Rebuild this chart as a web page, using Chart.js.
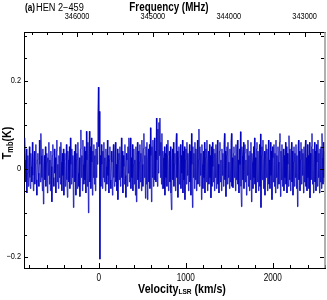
<!DOCTYPE html>
<html>
<head>
<meta charset="utf-8">
<script src="https://cdn.jsdelivr.net/npm/chart.js@4"></script>
<style>
  html, body { margin: 0; padding: 0; background: #fff; }
  #wrap { width: 327px; height: 300px; }
</style>
</head>
<body>
<div id="wrap"><canvas id="spec" width="327" height="300"></canvas></div>
<script>
// spectrum channels: first channel velocity and channel width (km/s)
const velStart = -850;
const velStep = 5.75;

// Tmb (K) per channel
const tmb = [
  0.07, 0.02, -0.03, 0.045, -0.055, -0.01, 0.03, -0.04, 0.015, 0.05,
  -0.02, -0.045, 0.035, 0.005, -0.03, 0.06, -0.015, -0.05, 0.025, 0.04,
  -0.035, 0.01, 0.055, -0.025, -0.06, 0.02, 0.035, -0.01, -0.04, 0.065,
  0.01, -0.03, 0.08, 0.03, -0.02, -0.05, 0.045, -0.08, 0.005, 0.03,
  -0.025, 0.05, -0.04, 0.015, 0.035, -0.055, 0.025, -0.015, 0.06, -0.035,
  0.02, -0.05, 0.04, 0.005, -0.075, 0.03, 0.055, -0.02, -0.04, 0.045,
  -0.01, 0.025, -0.055, 0.04, 0.065, -0.03, 0.01, -0.045, 0.03, -0.02,
  0.05, -0.035, 0.06, 0.015, -0.05, 0.035, -0.015, 0.045, -0.06, 0.02,
  0.035, -0.04, 0.005, 0.055, -0.025, -0.065, 0.04, 0.02, -0.03, 0.05,
  -0.045, 0.07, 0.01, -0.035, 0.045, -0.02, 0.03, -0.088, 0.015, 0.04,
  -0.03, 0.055, -0.06, 0.02, 0.035, -0.045, 0.06, -0.01, -0.04, 0.025,
  -0.063, 0.045, 0.088, -0.02, 0.03, -0.05, 0.065, 0.01, -0.035, 0.05,
  -0.025, 0.04, -0.055, 0.085, 0.02, -0.04, 0.06, -0.1, 0.035, 0.085,
  -0.03, 0.05, -0.045, 0.07, 0.015, -0.06, 0.04, -0.02, 0.055, -0.035,
  0.03, -0.05, 0.045, -0.02, 0.06, 0.01, 0.12, 0.185, 0.05, 0.13,
  -0.205, 0.03, -0.04, 0.055, 0.01, -0.045, 0.04, -0.02, 0.06, -0.03,
  0.025, -0.05, 0.045, 0.005, -0.035, 0.065, -0.015, 0.03, -0.055, 0.02,
  0.05, -0.025, -0.045, 0.04, 0.015, -0.06, 0.035, 0.055, -0.02, -0.04,
  0.03, 0.06, -0.03, 0.01, -0.05, 0.045, -0.07, 0.02, 0.035, -0.025,
  0.05, -0.04, 0.015, 0.07, -0.02, 0.04, -0.055, 0.03, 0.005, -0.035,
  0.055, -0.015, -0.065, 0.035, 0.02, -0.04, 0.05, -0.01, 0.07, -0.03,
  0.04, 0.07, -0.045, 0.025, -0.02, 0.055, -0.05, 0.01, 0.045, -0.035,
  0.02, -0.06, 0.05, -0.075, 0.03, 0.06, -0.025, 0.04, -0.045, 0.015,
  0.055, -0.03, 0.035, -0.05, 0.065, 0.01, -0.04, 0.045, 0.08, -0.02,
  0.03, -0.067, 0.05, -0.035, 0.06, -0.07, 0.02, 0.045, -0.03, 0.055,
  -0.045, 0.093, 0.03, -0.075, 0.05, -0.02, 0.065, -0.04, 0.035, 0.07,
  -0.025, 0.04, -0.03, 0.115, 0.02, -0.04, 0.09, -0.01, 0.105, 0.03,
  0.115, -0.02, 0.06, -0.035, 0.08, -0.045, 0.04, 0.025, -0.045, 0.05,
  -0.06, 0.035, -0.02, 0.055, -0.04, 0.03, 0.065, -0.05, 0.015, 0.04,
  -0.03, 0.05, -0.055, -0.093, 0.02, 0.045, -0.025, 0.06, -0.04, 0.01,
  0.035, -0.05, 0.06, 0.08, -0.02, 0.04, -0.065, 0.025, 0.05, -0.035,
  0.015, 0.055, -0.045, 0.03, -0.01, 0.065, -0.055, 0.04, -0.025, 0.05,
  -0.07, 0.02, 0.045, -0.035, 0.06, -0.015, 0.035, -0.05, 0.025, 0.055,
  -0.03, 0.04, -0.06, 0.08, 0.01, -0.088, 0.05, -0.02, 0.035, -0.045,
  0.06, -0.025, 0.045, -0.05, 0.03, 0.065, -0.035, 0.02, 0.09, -0.04,
  0.05, -0.015, 0.035, -0.07, 0.055, 0.01, -0.045, 0.04, -0.02, 0.06,
  -0.055, 0.025, 0.045, -0.03, 0.065, -0.05, 0.015, 0.04, -0.035, 0.055,
  -0.02, 0.03, -0.066, 0.05, -0.04, 0.06, 0.005, -0.03, 0.045, -0.05,
  0.035, -0.02, 0.055, -0.045, 0.025, 0.065, -0.035, 0.01, -0.055, 0.04,
  0.06, -0.03, 0.02, -0.05, 0.045, -0.015, 0.035, -0.04, 0.055, 0.08,
  -0.025, 0.04, -0.063, 0.03, 0.05, -0.035, 0.06, -0.02, 0.015, -0.045,
  0.045, -0.03, 0.06, 0.08, -0.04, 0.025, -0.043, 0.035, 0.05, -0.02,
  0.03, -0.05, 0.055, -0.025, 0.04, 0.065, -0.035, 0.02, -0.055, 0.045,
  0.01, 0.084, -0.04, -0.086, 0.05, 0.03, -0.025, 0.06, -0.045, 0.035,
  0.055, -0.03, 0.02, -0.06, 0.045, -0.015, 0.065, -0.04, 0.03, -0.05,
  0.04, -0.025, 0.06, -0.075, 0.035, 0.015, -0.045, 0.05, -0.02, 0.07,
  -0.035, 0.025, -0.055, 0.045, 0.06, -0.03, 0.04, -0.05, 0.02, 0.055,
  -0.04, 0.079, -0.088, 0.03, 0.05, -0.025, 0.065, -0.045, 0.015, 0.04,
  -0.06, 0.035, 0.055, -0.02, 0.045, -0.05, 0.03, 0.065, -0.035, 0.02,
  -0.045, 0.06, -0.015, 0.04, -0.07, 0.05, 0.025, -0.03, 0.055, -0.04,
  0.035, -0.055, 0.065, -0.02, 0.03, -0.045, 0.05, 0.015, -0.035, 0.06,
  0.08, -0.063, 0.04, -0.025, 0.055, -0.04, 0.02, 0.045, -0.05, 0.03,
  -0.02, 0.06, -0.035, 0.05, -0.055, 0.035, 0.01, -0.04, 0.075, -0.025,
  0.045, -0.05, 0.025, 0.06, -0.03, 0.04, -0.06, 0.015, 0.05, -0.04,
  0.035, -0.02, 0.055, -0.045, 0.03, -0.086, 0.045, 0.065, -0.025, 0.04,
  -0.05, 0.02, 0.06, -0.035, 0.045, -0.015, 0.035, -0.055, 0.05, -0.03,
  0.04, 0.065, -0.04, 0.025, -0.05, 0.055, -0.02, 0.03, -0.045, 0.06,
  -0.066, 0.035, -0.025, 0.05, 0.08, -0.035, 0.045, -0.055, 0.02, 0.06,
  -0.03, 0.04, -0.05, 0.055, 0.015, -0.04, 0.065, -0.02, 0.035, -0.055,
  0.045, -0.03, 0.05, -0.045, 0.08, 0.025, -0.035, 0.06, -0.02, 0.04,
  -0.03
];

// axis ranges and labelled ticks
const velRange = [-860, 2600];
const freqRange = [342732, 346699];   // MHz, decreasing to the right
const tmbRange = [-0.225, 0.31];
const velLabels = [0, 1000, 2000];
const freqLabels = [343000, 344000, 345000, 346000];
const tmbLabels = [-0.2, 0, 0.2];

const sans = "'Liberation Sans', Arial, sans-serif";
const squeeze = 0.82;   // the original type is a condensed face

const points = tmb.map((t, i) => ({ x: velStart + i * velStep, y: t }));

// condensed text: pieces = [{text, font, dy}], align 'left' | 'center' | 'right'
function drawNarrow(ctx, pieces, x, y, align, sx) {
  sx = sx || squeeze;
  let total = 0;
  pieces.forEach(p => { ctx.font = p.font; total += ctx.measureText(p.text).width; });
  let start = align === 'center' ? -total / 2 : align === 'right' ? -total : 0;
  ctx.save();
  ctx.translate(x, y);
  ctx.scale(sx, 1);
  ctx.textAlign = 'left';
  let cx = start;
  pieces.forEach(p => {
    ctx.font = p.font;
    ctx.fillText(p.text, cx, p.dy || 0);
    cx += ctx.measureText(p.text).width;
  });
  ctx.restore();
  return total * sx;
}

const frame = {
  id: 'frame',
  afterDraw(chart) {
    const { ctx, chartArea: a, scales } = chart;
    const xs = scales.x, xt = scales.xTop, ys = scales.y;
    ctx.save();
    ctx.strokeStyle = '#000';
    ctx.lineWidth = 1;
    ctx.beginPath();
    // bottom ticks, every 200 km/s
    for (let v = -800; v <= velRange[1]; v += 200) {
      const px = Math.round(xs.getPixelForValue(v)) + 0.5;
      const len = v % 1000 === 0 ? 5 : 3;
      ctx.moveTo(px, a.bottom); ctx.lineTo(px, a.bottom - len);
    }
    // top ticks, every 200 MHz
    for (let f = 342800; f <= freqRange[1]; f += 200) {
      const px = Math.round(xt.getPixelForValue(f)) + 0.5;
      const len = f % 1000 === 0 ? 5 : 3;
      ctx.moveTo(px, a.top); ctx.lineTo(px, a.top + len);
    }
    // left and right ticks, every 0.05 K
    for (let k = -4; k <= 6; k++) {
      const py = Math.round(ys.getPixelForValue(k * 0.05)) + 0.5;
      const len = k % 4 === 0 ? 4 : 3;
      ctx.moveTo(a.left, py); ctx.lineTo(a.left + len, py);
      ctx.moveTo(a.right - 1, py); ctx.lineTo(a.right - 1 - len, py);
    }
    ctx.stroke();
    // right edge of the box
    ctx.strokeStyle = 'rgb(150,150,150)';
    ctx.lineWidth = 1.5;
    ctx.beginPath();
    ctx.moveTo(a.right, a.top); ctx.lineTo(a.right, a.bottom);
    ctx.stroke();

    ctx.fillStyle = '#000';
    ctx.textBaseline = 'middle';
    // tick labels
    velLabels.forEach(v => {
      drawNarrow(ctx, [{ text: String(v), font: '10px ' + sans }], xs.getPixelForValue(v), a.bottom + 10, 'center');
    });
    freqLabels.forEach(f => {
      drawNarrow(ctx, [{ text: String(f), font: '9px ' + sans }], xt.getPixelForValue(f), a.top - 15, 'center');
    });
    tmbLabels.forEach(t => {
      const txt = t === 0 ? '0' : (t < 0 ? '\u2212' : '') + Math.abs(t).toFixed(1);
      drawNarrow(ctx, [{ text: txt, font: '9px ' + sans }], a.left - 3, ys.getPixelForValue(t), 'right');
    });

    ctx.textBaseline = 'alphabetic';
    // panel label
    const w = drawNarrow(ctx, [{ text: '(a)', font: 'bold 10px ' + sans }], 25, 11, 'left');
    drawNarrow(ctx, [{ text: 'HEN 2\u2212459', font: '10px ' + sans }], 25 + w + 1, 11, 'left', 0.92);
    // top axis title
    drawNarrow(ctx, [{ text: 'Frequency (MHz)', font: 'bold 12px ' + sans }], 169, 11, 'center');
    // bottom axis title
    drawNarrow(ctx, [
      { text: 'Velocity', font: 'bold 13px ' + sans },
      { text: 'LSR', font: 'bold 8px ' + sans, dy: 1 },
      { text: ' (km/s)', font: 'bold 13px ' + sans }
    ], 182, 293, 'center');
    // y axis title
    ctx.save();
    ctx.translate(11, 143);
    ctx.rotate(-Math.PI / 2);
    drawNarrow(ctx, [
      { text: 'T', font: 'bold 13px ' + sans },
      { text: 'mb', font: 'bold 9px ' + sans, dy: 2 },
      { text: '(K)', font: 'bold 13px ' + sans }
    ], 0, 0, 'center');
    ctx.restore();
    ctx.restore();
  }
};

new Chart(document.getElementById('spec'), {
  type: 'line',
  data: {
    datasets: [{
      data: points,
      borderColor: 'rgb(0,0,185)',
      borderWidth: 0.8,
      pointRadius: 0,
      tension: 0,
      fill: false
    }]
  },
  options: {
    responsive: false,
    animation: false,
    devicePixelRatio: 1,
    layout: { padding: { left: 0, right: 2, top: 0, bottom: 0 } },
    plugins: { legend: { display: false }, tooltip: { enabled: false } },
    scales: {
      x: {
        type: 'linear',
        position: 'bottom',
        min: velRange[0],
        max: velRange[1],
        afterFit: s => { s.height = 32; },
        ticks: { display: false },
        grid: { display: false, drawTicks: false },
        border: { color: '#000', width: 1 }
      },
      xTop: {
        type: 'linear',
        position: 'top',
        reverse: true,
        min: freqRange[0],
        max: freqRange[1],
        afterFit: s => { s.height = 32; },
        ticks: { display: false },
        grid: { display: false, drawTicks: false },
        border: { color: '#000', width: 1 }
      },
      y: {
        type: 'linear',
        min: tmbRange[0],
        max: tmbRange[1],
        afterFit: s => { s.width = 24; },
        ticks: { display: false },
        grid: { display: false, drawTicks: false },
        border: { color: '#000', width: 1 }
      }
    }
  },
  plugins: [frame]
});
</script>
</body>
</html>
